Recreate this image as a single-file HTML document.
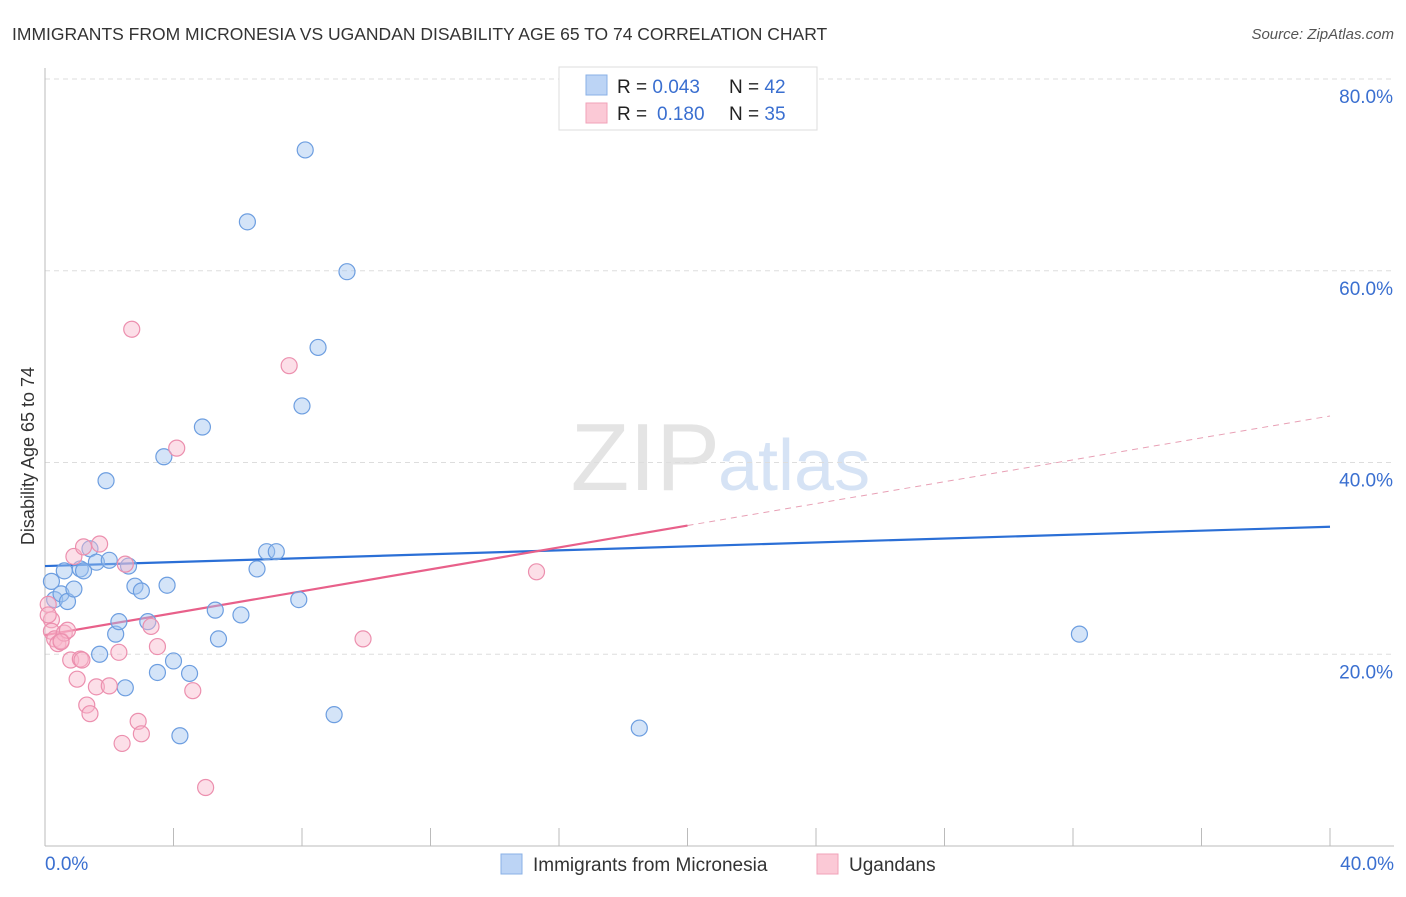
<!DOCTYPE html>
<html><head><meta charset="utf-8"><style>
body{margin:0;background:#fff;font-family:"Liberation Sans",sans-serif;}
svg text{font-family:"Liberation Sans",sans-serif;}
</style></head><body>
<svg id="chart" width="1406" height="892" xmlns="http://www.w3.org/2000/svg">
<text x="12" y="40" font-size="17.5" fill="#333">IMMIGRANTS FROM MICRONESIA VS UGANDAN DISABILITY AGE 65 TO 74 CORRELATION CHART</text>
<text x="1394" y="39" font-size="15" fill="#555" font-style="italic" text-anchor="end">Source: ZipAtlas.com</text>
<text x="720" y="490" font-size="96" fill="#e4e4e4" text-anchor="end" font-family="Liberation Serif">ZIP</text>
<text x="718" y="490" font-size="72" fill="#d6e3f5">atlas</text>
<text x="34" y="456" font-size="18" fill="#333" text-anchor="middle" transform="rotate(-90 34 456)">Disability Age 65 to 74</text>
<g id="grid"></g><g id="axes"></g><g id="lines"></g><g id="pts"></g>
<g>
<rect x="559" y="67" width="258" height="63" fill="#fff" stroke="#ddd"/>
<rect x="586" y="75" width="21" height="20" fill="#bcd4f5" stroke="#8ab0e6"/>
<rect x="586" y="103" width="21" height="20" fill="#fbc9d6" stroke="#f0a2b8"/>
<text x="617" y="93" font-size="19" fill="#222">R = <tspan fill="#3a6fd0">0.043</tspan><tspan x="729">N = </tspan><tspan fill="#3a6fd0">42</tspan></text>
<text x="617" y="120" font-size="19" fill="#222">R = <tspan fill="#3a6fd0" x="657">0.180</tspan><tspan x="729">N = </tspan><tspan fill="#3a6fd0">35</tspan></text>
</g>
<g>
<rect x="501" y="854" width="21" height="20" fill="#bcd4f5" stroke="#8ab0e6"/>
<text x="533" y="871" font-size="19" fill="#333">Immigrants from Micronesia</text>
<rect x="817" y="854" width="21" height="20" fill="#fbc9d6" stroke="#f0a2b8"/>
<text x="849" y="871" font-size="19" fill="#333">Ugandans</text>
</g>
</svg>
<script>
const yTicks=[20,40,60,80];
const xTickLabels=["0.0%","40.0%"];
const blueX=[0.2,0.3,0.5,0.6,0.7,0.9,1.1,1.2,1.4,1.6,1.9,2.0,2.2,2.3,2.5,2.6,1.7,2.8,3.0,3.2,3.5,3.7,3.8,4.0,4.2,4.5,4.9,5.3,5.4,6.1,6.3,6.6,6.9,7.2,7.9,8.0,8.1,8.5,9.0,9.4,18.5,32.2];
const blueY=[27.6,25.7,26.3,28.7,25.5,26.8,28.9,28.7,31.0,29.6,38.1,29.8,22.1,23.4,16.5,29.2,20.0,27.1,26.6,23.4,18.1,40.6,27.2,19.3,11.5,18.0,43.7,24.6,21.6,24.1,65.1,28.9,30.7,30.7,25.7,45.9,72.6,52.0,13.7,59.9,12.3,22.1];
const pinkX=[0.1,0.2,0.2,0.3,0.4,0.5,0.6,0.7,0.8,0.9,1.0,1.1,1.15,1.2,1.3,1.4,1.6,1.7,2.0,2.3,2.4,2.5,2.7,2.9,3.0,3.3,3.5,4.1,4.6,5.0,7.6,9.9,15.3,0.1,0.5];
const pinkY=[25.2,23.6,22.4,21.6,21.1,21.4,22.2,22.5,19.4,30.2,17.4,19.5,19.4,31.2,14.7,13.8,16.6,31.5,16.7,20.2,10.7,29.4,53.9,13.0,11.7,22.9,20.8,41.5,16.2,6.1,50.1,21.6,28.6,24.1,21.3];
const blueTrend=[29.2,33.3];
const pinkTrend=[22.0,44.85];
const pinkSolidEnd=20;
const NS="http://www.w3.org/2000/svg";
const xs=v=>45+v/40*1285, ys=v=>846-v/20*191.75;
function mk(t,a,p){const e=document.createElementNS(NS,t);for(const k in a)e.setAttribute(k,a[k]);p.appendChild(e);return e;}
const grid=document.getElementById('grid'),axes=document.getElementById('axes'),lines=document.getElementById('lines'),pts=document.getElementById('pts');
yTicks.forEach(t=>{
 const l=mk('line',{x1:45,x2:1394,y1:ys(t),y2:ys(t),stroke:'#ddd','stroke-dasharray':'5,4'},grid);
 
 
 const tx=mk('text',{x:1393,y:ys(t)+24,'font-size':19,fill:'#3a6fd0','text-anchor':'end'},axes);tx.textContent=t.toFixed(1)+'%';
 
 
});
const ax=mk('line',{x1:45,x2:45,y1:68,y2:846,stroke:'#bbb'},axes);


const bx=mk('line',{x1:45,x2:1394,y1:846,y2:846,stroke:'#bbb'},axes);


for(let i=1;i<=10;i++){const t=mk('line',{x1:xs(i*4),x2:xs(i*4),y1:828,y2:846,stroke:'#bbb'},axes);
 
 }
const x0=mk('text',{x:45,y:870,'font-size':19,fill:'#3a6fd0'},axes);x0.textContent=xTickLabels[0];


const x1=mk('text',{x:1394,y:870,'font-size':19,fill:'#3a6fd0','text-anchor':'end'},axes);x1.textContent=xTickLabels[1];


const bl=mk('line',{x1:xs(0),y1:ys(blueTrend[0]),x2:xs(40),y2:ys(blueTrend[1]),stroke:'#2b6fd6','stroke-width':2.2},lines);


const pm=pinkTrend[0]+(pinkTrend[1]-pinkTrend[0])*pinkSolidEnd/40;
const pl=mk('line',{x1:xs(0),y1:ys(pinkTrend[0]),x2:xs(pinkSolidEnd),y2:ys(pm),stroke:'#e8608a','stroke-width':2.2},lines);


const pd=mk('line',{x1:xs(pinkSolidEnd),y1:ys(pm),x2:xs(40),y2:ys(pinkTrend[1]),stroke:'#e8a0b5','stroke-width':1,'stroke-dasharray':'6,5'},lines);


blueX.forEach((v,i)=>{const c=mk('circle',{cx:xs(v),cy:ys(blueY[i]),r:8,fill:'rgba(160,195,240,0.45)',stroke:'#6d9ee0','stroke-width':1.2},pts);
 
 });
pinkX.forEach((v,i)=>{const c=mk('circle',{cx:xs(v),cy:ys(pinkY[i]),r:8,fill:'rgba(248,185,205,0.45)',stroke:'#ec8fae','stroke-width':1.2},pts);
 
 });
</script>
</body></html>
